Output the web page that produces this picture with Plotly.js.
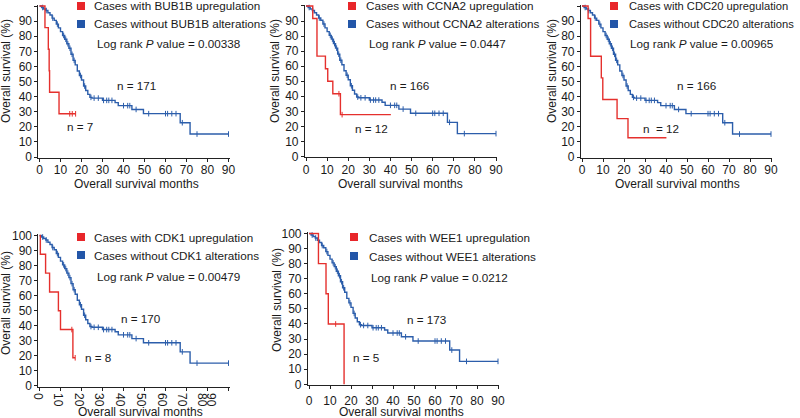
<!DOCTYPE html>
<html>
<head>
<meta charset="utf-8">
<script src="https://cdn.plot.ly/plotly-3.0.1.min.js"></script>
<style>html,body{margin:0;padding:0;background:#fff;}#chart{width:800px;height:418px;}</style>
</head>
<body>
<div id="chart"></div>
<script>
// ---------------- DATA ----------------
const genes = ['BUB1B', 'CCNA2', 'CDC20', 'CDK1', 'WEE1'];
const pValues = ['0.00338', '0.0447', '0.00965', '0.00479', '0.0212'];
const nAltered = ['n = 7', 'n = 12', 'n  = 12', 'n = 8', 'n = 5'];
const nUnaltered = ['n = 171', 'n = 166', 'n = 166', 'n = 170', 'n = 173'];
const xTickVals = [0, 10, 20, 30, 40, 50, 60, 70, 80, 90];
const xTickText = ['0', '10', '20', '30', '40', '50', '60', '70', '80', '90'];
const cdk1TickVals = [0, 9.8, 19.6, 29.4, 39.3, 49.3, 59.2, 68.8, 78.4, 82.8];
const yTickVals = [0, 10, 20, 30, 40, 50, 60, 70, 80, 90, 100];

// unaltered (blue) survival curve, months / % surviving
const blueTime = [0, 1, 2, 3, 4, 5, 6, 7, 8, 9, 10, 11, 12, 13, 14, 15, 16, 17, 18, 19, 20, 21, 22, 23, 24, 25, 30, 36, 37.5, 44, 49.5, 67, 71.7, 90];
const blueSurv = [100, 99, 98, 97, 95.5, 94, 92, 90.5, 88, 85.5, 83, 80.5, 78, 75, 72, 68, 64, 61, 57, 54, 51, 47, 44, 41.5, 39.5, 39, 37.5, 36, 34, 31.5, 28.7, 22.7, 15.2, 15.2];
const blueCensor = [1.5, 3.2, 6.3, 8.5, 11.5, 12.5, 13.5, 14.5, 15.5, 16.5, 19.5, 21.5, 24.5, 26, 28, 30.5, 32, 33, 34.5, 40, 42, 43, 46, 52, 60, 61, 63, 65, 68, 75, 90];

// altered (red) survival curves
const bub1bTime = [0, 2.6, 4.2, 4.6, 4.8, 9.3, 17.2];
const bub1bSurv = [100, 85.7, 71.4, 57.1, 42.9, 28.6, 28.6];
const bub1bCensor = [14.4, 15.6, 17.2];
const ccna2Time = [0, 3.2, 5.2, 9.2, 10.3, 12.7, 16.3, 40.2];
const ccna2Surv = [100, 91.7, 66.7, 58.3, 50, 41.7, 27.8, 27.8];
const ccna2Censor = [15.6, 17.1];
const cdc20Time = [0, 2.9, 4.1, 9.2, 9.9, 16.7, 21.9, 40.2];
const cdc20Surv = [100, 91.7, 66.7, 52.4, 38.1, 25.4, 12.7, 12.7];
const cdc20Censor = [];
const cdk1Time = [0, 0.4, 2.9, 4.8, 9.0, 10.0, 15.9, 17.0];
const cdk1Surv = [100, 87.5, 75, 62.5, 50, 37.5, 18.75, 18.75];
const cdk1Censor = [15.4, 17.0];
const wee1Time = [0, 4.5, 8.1, 9.2, 16.7];
const wee1Surv = [100, 80, 60, 40, 0];
const wee1Censor = [12.7];

const redTimes = [bub1bTime, ccna2Time, cdc20Time, cdk1Time, wee1Time];
const redSurvs = [bub1bSurv, ccna2Surv, cdc20Surv, cdk1Surv, wee1Surv];
const redCensors = [bub1bCensor, ccna2Censor, cdc20Censor, cdk1Censor, wee1Censor];

// ---------------- LAYOUT (pixels) ----------------
const W = 800, H = 418;
const RED = '#e5302d', BLUE = '#2c5eab';
const SQ_RED = '#e8262a', SQ_BLUE = '#2356a8';
const FONT = 'Liberation Sans, Arial, Helvetica, sans-serif';
const TXT = '#1a1a1a';
const ANN_SIZE = 11.7;
const P = [
  {x0: 39.5, x90: 228.5, y100: 6, y0: 157, leg: [77, 92, 6, 24, 95, 43], ls: 11.7, nU: [115, 86], nA: [65, 127], yt: [6, 71], xt: [136, 184], ts: -2},
  {x0: 306, x90: 496, y100: 6, y0: 156.5, leg: [348, 364, 6, 24, 367, 43], ls: 11.7, nU: [388, 85], nA: [353, 128], yt: [275, 71], xt: [400, 184], ts: -2},
  {x0: 582, x90: 771, y100: 6, y0: 157, leg: [610, 627, 6, 24, 628, 43], ls: 11.2, nU: [675, 85], nA: [641, 128], yt: [552, 71], xt: [677, 184], ts: -2},
  {x0: 39.5, x90: 228.5, y100: 235.5, y0: 386, leg: [77, 92, 237, 255, 95, 276], ls: 11.7, nU: [119, 318], nA: [83, 357], yt: [6, 303], xt: [140, 412], ts: -3},
  {x0: 309, x90: 498, y100: 233.5, y0: 384.3, leg: [350, 367, 237, 256, 369, 277], ls: 11.7, nU: [405, 319], nA: [351, 357], yt: [277, 300], xt: [401.5, 412], ts: 2}
];
const XR = [-0.5, 90.6], YR = [-0.4, 100.8];

function stepAt(t, times, surv) {
  let v = surv[0];
  for (let i = 0; i < times.length; i++) { if (times[i] <= t) v = surv[i]; }
  return v;
}
const fx = px => px / W;
const fy = py => 1 - py / H;

const data = [];
const layout = {
  width: W, height: H, margin: {l: 0, r: 0, t: 0, b: 0},
  paper_bgcolor: '#fff', plot_bgcolor: 'rgba(0,0,0,0)',
  showlegend: false, annotations: [], shapes: [],
  font: {family: FONT, size: 12, color: TXT}
};

P.forEach((p, i) => {
  const sfx = i === 0 ? '' : String(i + 1);
  const xa = 'x' + sfx, ya = 'y' + sfx;
  const ppx = (p.x90 - p.x0) / 90, ppy = (p.y0 - p.y100) / 100;
  const dl = p.x0 + XR[0] * ppx, dr = p.x0 + XR[1] * ppx;
  const dt = p.y0 - YR[1] * ppy, db = p.y0 - YR[0] * ppy;
  const isCdk1 = genes[i] === 'CDK1';
  layout['xaxis' + sfx] = {
    domain: [fx(dl), fx(dr)], range: XR, anchor: ya,
    showgrid: false, zeroline: false, showline: true, linecolor: '#222', linewidth: 1,
    tickmode: 'array', tickvals: isCdk1 ? cdk1TickVals : xTickVals, ticktext: xTickText,
    ticks: isCdk1 ? '' : 'outside', ticklen: 3, tickcolor: '#222', tickwidth: 1,
    minor: isCdk1 ? {tickvals: xTickVals, ticks: 'outside', ticklen: 3, tickcolor: '#222', tickwidth: 1} : undefined,
    ticklabelstandoff: p.ts,
    tickfont: {family: FONT, size: 12, color: TXT}, fixedrange: true
  };
  layout['yaxis' + sfx] = {
    domain: [fy(db), fy(dt)], range: YR, anchor: xa,
    showgrid: false, zeroline: false, showline: true, linecolor: '#222', linewidth: 1,
    tickmode: 'array', tickvals: yTickVals,
    ticks: 'outside', ticklen: 3, tickcolor: '#222', tickwidth: 1,
    tickfont: {family: FONT, size: 12, color: TXT}, fixedrange: true
  };
  // unaltered (blue)
  data.push({x: blueTime, y: blueSurv, xaxis: xa, yaxis: ya, type: 'scatter', mode: 'lines',
    line: {shape: 'hv', color: BLUE, width: 1.4}, hoverinfo: 'skip'});
  data.push({x: blueCensor, y: blueCensor.map(t => stepAt(t, blueTime, blueSurv)), xaxis: xa, yaxis: ya,
    type: 'scatter', mode: 'markers', cliponaxis: false,
    marker: {symbol: 'line-ns', size: 4, line: {color: BLUE, width: 1}}, hoverinfo: 'skip'});
  // altered (red)
  data.push({x: redTimes[i], y: redSurvs[i], xaxis: xa, yaxis: ya, type: 'scatter', mode: 'lines',
    line: {shape: 'hv', color: RED, width: 1.4}, hoverinfo: 'skip'});
  data.push({x: redCensors[i], y: redCensors[i].map(t => stepAt(t, redTimes[i], redSurvs[i])), xaxis: xa, yaxis: ya,
    type: 'scatter', mode: 'markers', cliponaxis: false,
    marker: {symbol: 'line-ns', size: 4, line: {color: RED, width: 1}}, hoverinfo: 'skip'});

  const L = p.leg; // [squareX, textX, row1Y, row2Y, logX, logY]
  const sq = 8;
  layout.shapes.push({type: 'rect', xref: 'paper', yref: 'paper', x0: fx(L[0]), x1: fx(L[0] + sq),
    y0: fy(L[2] + sq / 2), y1: fy(L[2] - sq / 2), fillcolor: SQ_RED, line: {width: 0}});
  layout.shapes.push({type: 'rect', xref: 'paper', yref: 'paper', x0: fx(L[0]), x1: fx(L[0] + sq),
    y0: fy(L[3] + sq / 2), y1: fy(L[3] - sq / 2), fillcolor: SQ_BLUE, line: {width: 0}});
  const ann = (x, y, text, xanchor, size, extra) => Object.assign({xref: 'paper', yref: 'paper', x: fx(x), y: fy(y), text: text,
    showarrow: false, xanchor: xanchor || 'left', yanchor: 'middle', font: {family: FONT, size: size || ANN_SIZE, color: TXT}}, extra || {});
  layout.annotations.push(ann(L[1], L[2], 'Cases with ' + genes[i] + ' upregulation', 'left', p.ls));
  layout.annotations.push(ann(L[1], L[3], 'Cases without ' + genes[i] + ' alterations', 'left', p.ls));
  layout.annotations.push(ann(L[4], L[5], 'Log rank <i>P</i> value = ' + pValues[i]));
  layout.annotations.push(ann(p.nU[0], p.nU[1], nUnaltered[i]));
  layout.annotations.push(ann(p.nA[0], p.nA[1], nAltered[i]));
  layout.annotations.push(ann(p.xt[0], p.xt[1], 'Overall survival months', 'center', 12));
  layout.annotations.push(ann(p.yt[0], p.yt[1], 'Overall survival (%)', 'center', 12, {textangle: -90}));
});

Plotly.newPlot('chart', data, layout, {staticPlot: true, displayModeBar: false});
</script>
</body>
</html>
